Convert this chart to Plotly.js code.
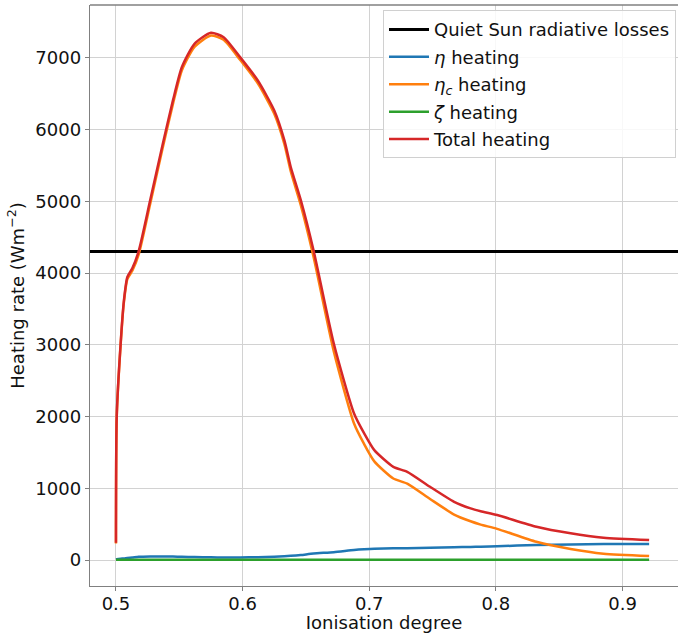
<!DOCTYPE html>
<html>
<head>
<meta charset="utf-8">
<script src="https://cdn.plot.ly/plotly-3.0.1.min.js"></script>
<style>
html,body{margin:0;padding:0;background:#fff;}
#chart{width:678px;height:633px;}
</style>
</head>
<body>
<div id="chart"></div>
<script>
// Ionisation degree (shared x values)
const ionisation = [0.5, 0.5006, 0.5037, 0.5063, 0.509, 0.513, 0.518, 0.527, 0.537, 0.545, 0.552, 0.562, 0.575, 0.585, 0.598, 0.612, 0.625, 0.633, 0.638, 0.646, 0.656, 0.672, 0.688, 0.696, 0.704, 0.719, 0.730, 0.748, 0.767, 0.780, 0.788, 0.801, 0.832, 0.859, 0.885, 0.921];

// Heating rates (W m^-2)
const etaHeating = [10, 12, 18, 22, 28, 35, 45, 50, 50, 48, 45, 42, 38, 36, 37, 40, 46, 52, 58, 70, 90, 110, 140, 150, 157, 163, 165, 170, 178, 183, 186, 192, 210, 218, 222, 222];
const etaCHeating = [230, 1988, 3002, 3598, 3917, 4035, 4265, 4964, 5753, 6359, 6825, 7154, 7312, 7252, 6973, 6645, 6221, 5798, 5420, 4944, 4228, 2908, 1903, 1615, 1375, 1136, 1065, 851, 634, 540, 494, 435, 254, 154, 89, 57];
const zetaHeating = [3, 3, 3, 3, 3, 3, 3, 3, 3, 3, 3, 3, 3, 3, 3, 3, 3, 3, 3, 3, 3, 3, 3, 3, 3, 3, 3, 3, 3, 3, 3, 3, 3, 3, 3, 3];
const totalHeating = [240, 2000, 3020, 3620, 3945, 4070, 4310, 5014, 5803, 6407, 6870, 7196, 7350, 7288, 7010, 6685, 6267, 5850, 5478, 5014, 4318, 3018, 2043, 1765, 1532, 1299, 1230, 1021, 812, 720, 680, 627, 464, 372, 311, 279];

// Quiet Sun radiative losses level
const quietSunLosses = 4300;
const quietSunX = [0.47, 0.95];

const xTicks = [0.5, 0.6, 0.7, 0.8, 0.9];
const xTickText = ['0.5', '0.6', '0.7', '0.8', '0.9'];
const yTicks = [0, 1000, 2000, 3000, 4000, 5000, 6000, 7000];

const seriesNames = ['Quiet Sun radiative losses', '<i>η</i> heating', '<i>η<sub>c</sub></i> heating', '<i>ζ</i> heating', 'Total heating'];
const colors = ['#000000', '#1f77b4', '#ff7f0e', '#2ca02c', '#d62728'];

const traces = [
  {x: quietSunX, y: quietSunX.map(() => quietSunLosses), name: seriesNames[0], line: {color: colors[0], width: 3}},
  {x: ionisation, y: etaHeating, name: seriesNames[1], line: {color: colors[1], width: 2.5, shape: 'spline', smoothing: 0.6}},
  {x: ionisation, y: etaCHeating, name: seriesNames[2], line: {color: colors[2], width: 2.5, shape: 'spline', smoothing: 0.6}},
  {x: ionisation, y: zetaHeating, name: seriesNames[3], line: {color: colors[3], width: 2.5}},
  {x: ionisation, y: totalHeating, name: seriesNames[4], line: {color: colors[4], width: 2.5, shape: 'spline', smoothing: 0.6}}
].map((t, i) => Object.assign({type: 'scatter', mode: 'lines', legendgroup: 'g' + i}, t));

const font = {family: 'DejaVu Sans, sans-serif', size: 18, color: '#111'};

const layout = {
  width: 678, height: 633,
  margin: {l: 90, r: 0, t: 5, b: 47},
  paper_bgcolor: '#fff', plot_bgcolor: '#fff',
  font: font,
  showlegend: true,
  legend: {
    x: 0.9966, xanchor: 'right', y: 0.991, yanchor: 'top',
    bgcolor: 'rgba(255,255,255,0.85)', bordercolor: '#d0d0d0', borderwidth: 1,
    font: {family: 'DejaVu Sans, sans-serif', size: 18, color: '#111'},
    traceorder: 'grouped', tracegroupgap: 1, itemwidth: 40
  },
  xaxis: {
    range: [0.4795, 0.9438],
    tickvals: xTicks, ticktext: xTickText,
    showgrid: true, gridcolor: '#d2d2d2', gridwidth: 1,
    zeroline: false,
    showline: true, linecolor: '#808080', linewidth: 1.3, mirror: false,
    ticks: 'outside', ticklen: 4, tickcolor: '#808080', tickwidth: 1,
    ticklabelstandoff: -3,
    tickfont: font,
    title: {text: 'Ionisation degree', font: font, standoff: 0}
  },
  yaxis: {
    range: [-362, 7737],
    tickvals: yTicks,
    showgrid: true, gridcolor: '#d2d2d2', gridwidth: 1,
    zeroline: false,
    showline: true, linecolor: '#808080', linewidth: 1.3, mirror: false,
    ticks: 'outside', ticklen: 4, tickcolor: '#808080', tickwidth: 1,
    tickfont: font,
    title: {text: 'Heating rate (Wm<sup>−2</sup>)', font: font, standoff: 6}
  },
  shapes: [
    {type: 'line', xref: 'paper', yref: 'paper', x0: 0, x1: 1, y0: 1, y1: 1, line: {color: '#808080', width: 1.3}}
  ]
};

Plotly.newPlot('chart', traces, layout, {displayModeBar: false, staticPlot: true});
</script>
</body>
</html>
